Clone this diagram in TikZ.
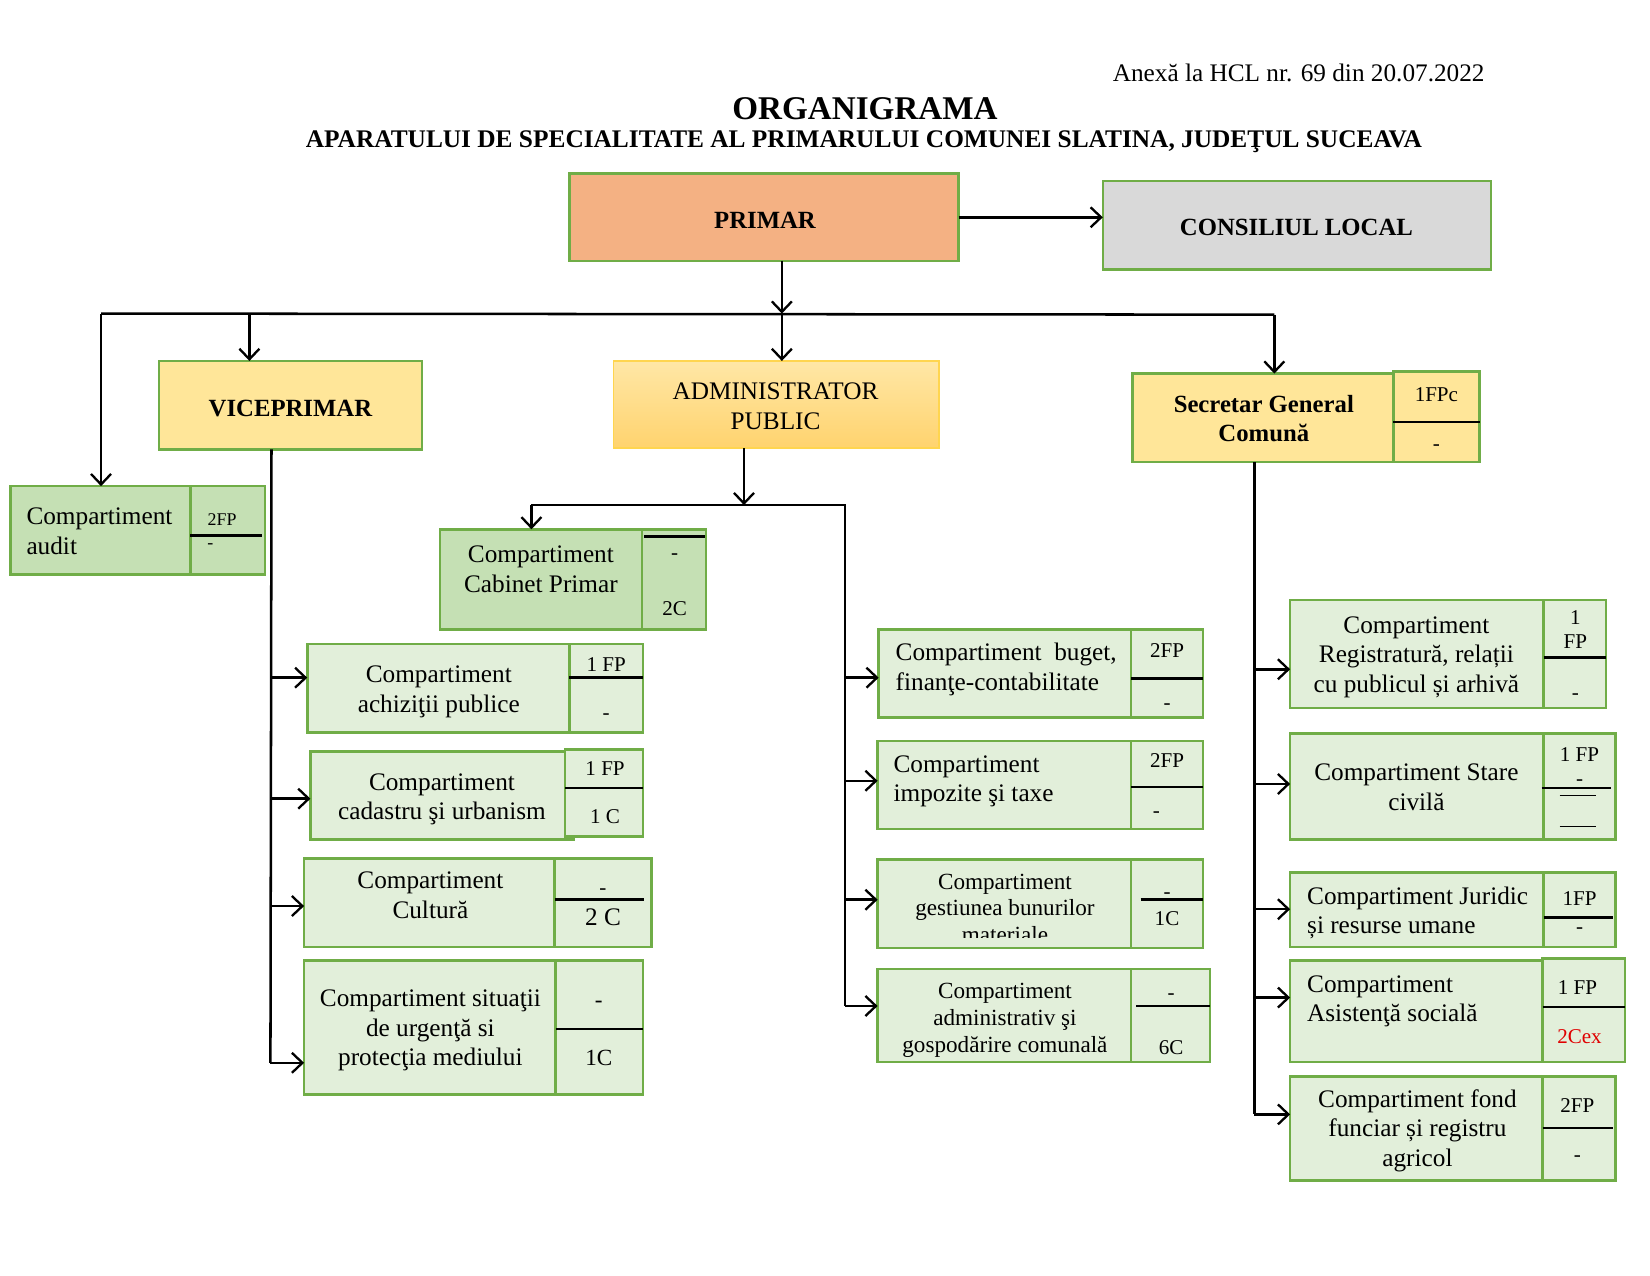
\documentclass[tikz,border=0pt]{standalone}
\usepackage{fontspec}
\setmainfont{Liberation Serif}
\usetikzlibrary{arrows.meta}
\definecolor{grn}{HTML}{70AD47}
\definecolor{salm}{HTML}{F4B183}
\definecolor{gry}{HTML}{D9D9D9}
\definecolor{yel}{HTML}{FFE699}
\definecolor{dkg}{HTML}{C5E0B4}
\definecolor{ltg}{HTML}{E2EFDA}
\definecolor{admT}{HTML}{FFE7A6}
\definecolor{admB}{HTML}{FFD36E}
\definecolor{admD}{HTML}{FFD54F}
\definecolor{redt}{HTML}{E00000}
\newcommand\fsz[2]{\fontsize{#1}{#2}\selectfont}
\begin{document}
\begin{tikzpicture}[x=1pt,y=-1pt,
  bx/.style={draw=grn, line width=2.4pt, inner sep=0pt, outer sep=0pt, anchor=north west},
  txt/.style={font=\fsz{24}{28}, inner sep=0pt, align=center, yshift=-4pt, execute at begin node=\strut, execute at end node=\strut},
  txtl/.style={txt, align=left, anchor=west},
  txts/.style={txt, font=\fsz{22}{25.5}, yshift=-1pt},
  num/.style={font=\fsz{20}{24}, inner sep=0pt, align=center, execute at begin node=\strut},
  hd/.style={font=\fsz{23.5}{28}\bfseries, inner sep=0pt, align=center},
  ln/.style={line width=2.4pt},
  dv/.style={line width=2.4pt},
  arr/.style={line width=2.4pt, -{Straight Barb[length=10pt,width=19pt,line width=2.2pt]}}
]
\useasboundingbox[fill=white] (0,0) rectangle (1568,1212);

% titles
\node[font=\fsz{24}{28}, inner sep=0pt, anchor=east] (anexa) at (1411,69) {Anexă la HCL nr. 69 din 20.07.2022};
\node[font=\fsz{31.5}{36}\bfseries, inner sep=0pt] (title) at (822,103) {ORGANIGRAMA};
\node[font=\fsz{24.1}{28}\bfseries, inner sep=0pt] (subtitle) at (821,135) {APARATULUI DE SPECIALITATE AL PRIMARULUI COMUNEI SLATINA, JUDEŢUL SUCEAVA};

% top boxes
\node[bx, fill=salm, minimum width=370pt, minimum height=83pt] (primar) at (541,165) {};
\node[hd] (tprimar) at (727,209) {PRIMAR};
\node[bx, fill=gry, minimum width=369pt, minimum height=84pt] (cons) at (1048,172) {};
\node[hd] (tcons) at (1232,216) {CONSILIUL LOCAL};

\node[bx, fill=yel, minimum width=250pt, minimum height=84pt] (vice) at (151,343) {};
\node[hd] (tvice) at (276,388) {VICEPRIMAR};

\node[bx, draw=admD, line width=1.6pt, top color=admT, bottom color=admB, minimum width=309pt, minimum height=83pt] (admin) at (583,343) {};
\node[txt] (tadmin) at (737,386) {ADMINISTRATOR\\PUBLIC};

\node[bx, fill=yel, minimum width=248pt, minimum height=84pt] (secr) at (1076,355) {};
\node[bx, fill=yel, minimum width=82pt, minimum height=86pt] (secrS) at (1324,353) {};
\draw[dv] (1324,401) -- (1406,401);
\node[hd, font=\fsz{23.5}{28}\bfseries] (tsecr) at (1201,398) {Secretar General\\Comună};
\node[num] (nsecr1) at (1365,377) {1FPc};
\node[num] (nsecr2) at (1365,423) {-};

% audit
\node[bx, fill=dkg, minimum width=171pt, minimum height=84pt] (audit) at (10,462) {};
\node[bx, fill=dkg, minimum width=71pt, minimum height=84pt] (auditS) at (181,462) {};
\draw[dv] (181,509) -- (249,509);
\node[txtl] (taudit) at (25,505) {Compartiment\\audit};
\node[num, font=\fsz{17}{20}] (naudit1) at (211,495) {2FP};
\node[num, font=\fsz{17}{20}] (naudit2) at (200,517) {-};

% cabinet
\node[bx, fill=dkg, minimum width=192pt, minimum height=95pt] (cab) at (418,503) {};
\node[bx, fill=dkg, minimum width=61pt, minimum height=95pt] (cabS) at (610,503) {};
\draw[dv] (612,510) -- (670,510);
\node[txt] (tcab) at (514,541) {Compartiment\\Cabinet Primar};
\node[num] (ncab1) at (641,527) {-};
\node[num] (ncab2) at (641,580) {2C};

% vice children
\node[bx, fill=ltg, minimum width=249pt, minimum height=84pt] (ach) at (292,612) {};
\node[bx, fill=ltg, minimum width=70pt, minimum height=84pt] (achS) at (541,612) {};
\draw[dv] (541,644) -- (611,644);
\node[txt] (tach) at (417,655) {Compartiment\\achiziţii publice};
\node[num] (nach1) at (576,633) {1 FP};
\node[num] (nach2) at (576,679) {-};

\node[bx, fill=ltg, minimum width=250pt, minimum height=84pt] (cad) at (295,714) {};
\node[bx, fill=ltg, minimum width=74pt, minimum height=83pt] (cadS) at (537,712) {};
\draw[dv] (537,749) -- (611,749);
\node[txt] (tcad) at (420,757) {Compartiment\\cadastru şi urbanism};
\node[num] (ncad1) at (575,732) {1 FP};
\node[num] (ncad2) at (575,778) {1 C};

\node[bx, fill=ltg, minimum width=238pt, minimum height=84pt] (cult) at (289,816) {};
\node[bx, fill=ltg, minimum width=92pt, minimum height=84pt] (cultS) at (527,816) {};
\draw[dv] (527,855) -- (612,855);
\node[txt] (tcult) at (409,851) {Compartiment\\Cultură};
\node[num] (ncult1) at (573,845) {-};
\node[num, font=\fsz{24}{28}] (ncult2) at (573,874) {2 C};

\node[bx, fill=ltg, minimum width=239pt, minimum height=127pt] (sit) at (289,913) {};
\node[bx, fill=ltg, minimum width=83pt, minimum height=127pt] (sitS) at (528,913) {};
\draw[dv] (528,978) -- (611,978);
\node[txt] (tsit) at (409,977) {Compartiment situaţii\\de urgenţă si\\protecţia mediului};
\node[num, font=\fsz{22}{26}] (nsit1) at (569,952) {-};
\node[num, font=\fsz{22}{26}] (nsit2) at (569,1007) {1C};

% admin children
\node[bx, fill=ltg, minimum width=240pt, minimum height=84pt] (bug) at (835,598) {};
\node[bx, fill=ltg, minimum width=68pt, minimum height=84pt] (bugS) at (1075,598) {};
\draw[dv] (1075,645) -- (1143,645);
\node[txtl] (tbug) at (851,634) {Compartiment\hspace{6pt} buget,\\finanţe-contabilitate};
\node[num] (nbug1) at (1109,620) {2FP};
\node[num] (nbug2) at (1109,669) {-};

\node[bx, fill=ltg, minimum width=241pt, minimum height=84pt] (imp) at (834,704) {};
\node[bx, fill=ltg, minimum width=68pt, minimum height=84pt] (impS) at (1075,704) {};
\draw[dv] (1075,748) -- (1143,748);
\node[txtl] (timp) at (849,740) {Compartiment\\impozite şi taxe};
\node[num] (nimp1) at (1109,725) {2FP};
\node[num] (nimp2) at (1099,772) {-};

\node[bx, fill=ltg, minimum width=241pt, minimum height=84pt] (gest) at (834,817) {};
\node[bx, fill=ltg, minimum width=68pt, minimum height=84pt] (gestS) at (1075,817) {};
\draw[dv] (1084,855) -- (1143,855);
\begin{scope}
\clip (834,817) rectangle (1075,891);
\node[txts] (tgest) at (955,862) {Compartiment\\gestiunea bunurilor\\materiale};
\end{scope}
\node[num] (ngest1) at (1109,849) {-};
\node[num] (ngest2) at (1109,875) {1C};

\node[bx, fill=ltg, minimum width=241pt, minimum height=88pt] (adm) at (834,921) {};
\node[bx, fill=ltg, minimum width=75pt, minimum height=88pt] (admS) at (1075,921) {};
\draw[dv] (1080,956) -- (1150,956);
\node[txts] (tadm) at (955,966) {Compartiment\\administrativ şi\\gospodărire comunală};
\node[num] (nadm1) at (1113,945) {-};
\node[num] (nadm2) at (1113,997) {6C};

% secretar children
\node[bx, fill=ltg, minimum width=241pt, minimum height=103pt] (reg) at (1226,570) {};
\node[bx, fill=ltg, minimum width=59pt, minimum height=103pt] (regS) at (1467,570) {};
\draw[dv] (1467,625) -- (1526,625);
\node[txt] (treg) at (1346,622) {Compartiment\\Registratură, relații\\cu publicul și arhivă};
\node[num, font=\fsz{20}{23}] (nreg1) at (1497,602) {1\\FP};
\node[num] (nreg2) at (1497,660) {-};

\node[bx, fill=ltg, minimum width=241pt, minimum height=101pt] (stare) at (1226,697) {};
\node[bx, fill=ltg, minimum width=68pt, minimum height=101pt] (stareS) at (1467,697) {};
\draw[dv] (1465,749) -- (1531,749);
\draw[line width=1.8pt] (1482,756) -- (1517,756);
\draw[line width=1pt] (1482,785) -- (1517,785);
\node[txt] (tstare) at (1346,748) {Compartiment Stare\\civilă};
\node[num] (nstare1) at (1501,719) {1 FP};
\node[num] (nstare2) at (1501,742) {-};

\node[bx, fill=ltg, minimum width=241pt, minimum height=71pt] (jur) at (1226,829) {};
\node[bx, fill=ltg, minimum width=68pt, minimum height=71pt] (jurS) at (1467,829) {};
\draw[dv] (1467,872) -- (1533,872);
\node[txtl] (tjur) at (1242,865) {Compartiment Juridic\\și resurse umane};
\node[num] (njur1) at (1501,856) {1FP};
\node[num] (njur2) at (1501,882) {-};

\node[bx, fill=ltg, minimum width=240pt, minimum height=96pt] (asis) at (1226,913) {};
\node[bx, fill=ltg, minimum width=78pt, minimum height=98pt] (asisS) at (1466,911) {};
\draw[dv] (1466,957) -- (1544,957);
\node[txtl] (tasis) at (1242,949) {Compartiment\\Asistenţă socială};
\node[num] (nasis1) at (1499,940) {1 FP};
\node[num, text=redt] (nasis2) at (1501,987) {2Cex};

\node[bx, fill=ltg, minimum width=240pt, minimum height=99pt] (fond) at (1226,1023) {};
\node[bx, fill=ltg, minimum width=69pt, minimum height=99pt] (fondS) at (1466,1023) {};
\draw[dv] (1466,1072) -- (1533,1072);
\node[txt] (tfond) at (1347,1072) {Compartiment fond\\funciar și registru\\agricol};
\node[num] (nfond1) at (1499,1052) {2FP};
\node[num] (nfond2) at (1499,1099) {-};

% connectors top
\draw[arr] (primar.east) -- (primar.east -| cons.west);
\coordinate (bus) at (743,298);
\coordinate (busL) at (96,298);
\coordinate (busV) at (237,298);
\coordinate (busR) at (1211,299);
\draw[arr] (bus |- primar.south) -- (bus);
\draw[ln] (busL) -- (busR);
\draw[arr] (busL) -- (busL |- audit.north);
\draw[arr] (busV) -- (busV |- vice.north);
\draw[arr] (bus) -- (bus |- admin.north);
\draw[arr] (busR) -- (busR |- secr.north);

% viceprimar trunk
\coordinate (vt) at (258,427);
\coordinate (vb) at (257,1010);
\coordinate (v1) at (258,644);
\coordinate (v2) at (258,759);
\coordinate (v3) at (257,861);
\draw[ln] (vt) -- (vb);
\draw[arr] (v1) -- (v1 -| ach.west);
\draw[arr] (v2) -- (v2 -| cad.west);
\draw[arr] (v3) -- (v3 -| cult.west);
\draw[arr] (vb) -- (vb -| sit.west);

% administrator trunk
\coordinate (ab) at (707,480);
\coordinate (abL) at (505,480);
\coordinate (abR) at (803,480);
\coordinate (abB) at (803,956);
\coordinate (a1) at (803,644);
\coordinate (a2) at (803,742);
\coordinate (a3) at (803,855);
\draw[arr] (ab |- admin.south) -- (ab);
\draw[ln] (abL) -- (abR) -- (abB);
\draw[arr] (abL) -- (abL |- cab.north);
\draw[arr] (a1) -- (a1 -| bug.west);
\draw[arr] (a2) -- (a2 -| imp.west);
\draw[arr] (a3) -- (a3 -| gest.west);
\draw[arr] (abB) -- (abB -| adm.west);

% secretar trunk
\coordinate (st) at (1192,439);
\coordinate (sb) at (1192,1059);
\coordinate (s1) at (1192,636);
\coordinate (s2) at (1192,745);
\coordinate (s3) at (1192,864);
\coordinate (s4) at (1192,948);
\draw[ln] (st) -- (sb);
\draw[arr] (s1) -- (s1 -| reg.west);
\draw[arr] (s2) -- (s2 -| stare.west);
\draw[arr] (s3) -- (s3 -| jur.west);
\draw[arr] (s4) -- (s4 -| asis.west);
\draw[arr] (sb) -- (sb -| fond.west);
\end{tikzpicture}
\end{document}
